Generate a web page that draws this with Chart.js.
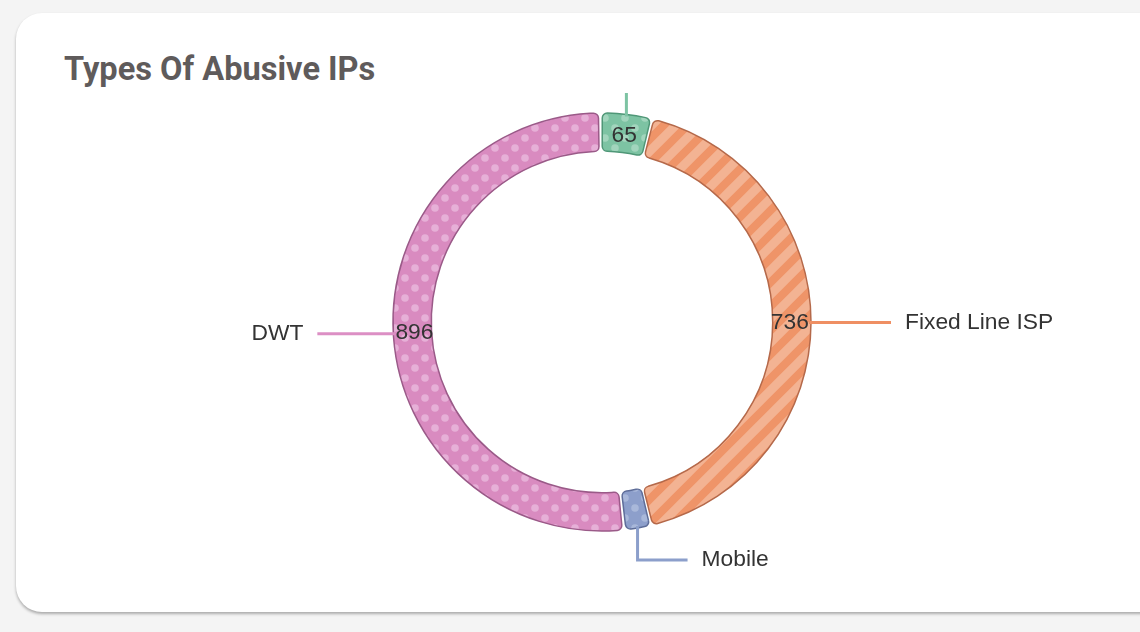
<!DOCTYPE html>
<html>
<head>
<meta charset="utf-8">
<script src="https://cdn.jsdelivr.net/npm/chart.js@4.4.1/dist/chart.umd.min.js"></script>
<style>
html, body { margin: 0; padding: 0; width: 1140px; height: 632px; overflow: hidden; background: #f4f4f4; }
#card { position: absolute; left: 16px; top: 13px; width: 1170px; height: 599px; background: #fff;
  border-radius: 26px; box-shadow: 0 2px 3px rgba(0,0,0,0.3); overflow: hidden; }
#title { position: absolute; left: 48px; top: 40px; margin: 0; font: bold 32.6px Roboto, sans-serif;
  line-height: 1; color: #5f5b5b; }
#chart { position: absolute; left: -16px; top: 80px; }
</style>
</head>
<body>
<div id="card">
  <h2 id="title">Types Of Abusive IPs</h2>
  <canvas id="chart" width="1140" height="500"></canvas>
</div>
<script>
// data
var categories = ['Commercial', 'Fixed Line ISP', 'Mobile', 'DWT'];
var ipCounts = [65, 736, 32, 896];

// colours
var baseColors = ['#7dc3a3', '#f3b393', '#8d9fcb', '#d98bc0'];
var markColors = ['#a2d5bd', '#ef9468', '#a9b8da', '#e6b0d7'];
var borderColors = ['#4f9777', '#b5694a', '#5e6d99', '#9a5a88'];
var lineColors = ['#7dc3a3', '#ef8f63', '#8c9fcb', '#dc8fc4'];

function dotPattern(base, dot) {
  var c = document.createElement('canvas');
  c.width = 20; c.height = 20;
  var g = c.getContext('2d');
  g.fillStyle = base;
  g.fillRect(0, 0, 20, 20);
  g.fillStyle = dot;
  [[5, 5], [15, 15]].forEach(function(d) {
    g.beginPath();
    g.arc(d[0], d[1], 3.8, 0, Math.PI * 2);
    g.fill();
  });
  return g.createPattern(c, 'repeat');
}

function stripePattern(base, stripe) {
  var s = 24;
  var c = document.createElement('canvas');
  c.width = s; c.height = s;
  var g = c.getContext('2d');
  g.fillStyle = base;
  g.fillRect(0, 0, s, s);
  g.strokeStyle = stripe;
  g.lineWidth = 8;
  g.beginPath();
  g.moveTo(-s / 2, s / 2); g.lineTo(s / 2, -s / 2);
  g.moveTo(0, s); g.lineTo(s, 0);
  g.moveTo(s / 2, s * 1.5); g.lineTo(s * 1.5, s / 2);
  g.stroke();
  return g.createPattern(c, 'repeat');
}

var fills = [
  dotPattern(baseColors[0], markColors[0]),
  stripePattern(baseColors[1], markColors[1]),
  dotPattern(baseColors[2], markColors[2]),
  dotPattern(baseColors[3], markColors[3])
];

// labels + connector lines
var calloutPlugin = {
  id: 'callouts',
  afterDatasetsDraw: function(chart) {
    var ctx = chart.ctx;
    var meta = chart.getDatasetMeta(0);
    ctx.save();
    ctx.font = '22.8px "Liberation Sans", Arial, sans-serif';
    ctx.textBaseline = 'middle';
    meta.data.forEach(function(arc, i) {
      var p = arc.getProps(['x', 'y', 'startAngle', 'endAngle', 'innerRadius', 'outerRadius'], true);
      var a = (p.startAngle + p.endAngle) / 2;
      var cos = Math.cos(a), sin = Math.sin(a);
      var sx = p.x + cos * p.outerRadius;
      var sy = p.y + sin * p.outerRadius;
      var tx, ty, align;
      ctx.strokeStyle = lineColors[i];
      ctx.lineWidth = 3;
      ctx.beginPath();
      ctx.moveTo(sx, sy);
      if (Math.abs(cos) > 0.5) {
        var ex = sx + (cos > 0 ? 82 : -78);
        ctx.lineTo(ex, sy);
        tx = ex + (cos > 0 ? 14 : -14);
        ty = sy;
        align = cos > 0 ? 'left' : 'right';
      } else {
        var ey = sy + (sin > 0 ? 34 : -34);
        ctx.lineTo(sx, ey);
        ctx.lineTo(sx + 50, ey);
        tx = sx + 64;
        ty = ey;
        align = 'left';
      }
      ctx.stroke();
      ctx.fillStyle = '#333';
      ctx.textAlign = align;
      ctx.fillText(categories[i], tx, ty);
      if (ipCounts[i] > 50) {
        var mr = (p.innerRadius + p.outerRadius) / 2;
        ctx.textAlign = 'center';
        ctx.fillText(String(ipCounts[i]), p.x + cos * mr, p.y + sin * mr);
      }
    });
    ctx.restore();
  }
};

new Chart(document.getElementById('chart').getContext('2d'), {
  type: 'doughnut',
  data: {
    labels: categories,
    datasets: [{
      data: ipCounts,
      backgroundColor: fills,
      borderColor: borderColors,
      borderWidth: 1.5,
      borderRadius: 5,
      spacing: 4,
      radius: 207,
      cutout: '81.5%'
    }]
  },
  options: {
    responsive: false,
    animation: false,
    events: [],
    layout: { padding: { left: 64, bottom: 42 } },
    plugins: { legend: { display: false }, tooltip: { enabled: false } }
  },
  plugins: [calloutPlugin]
});
</script>
</body>
</html>
